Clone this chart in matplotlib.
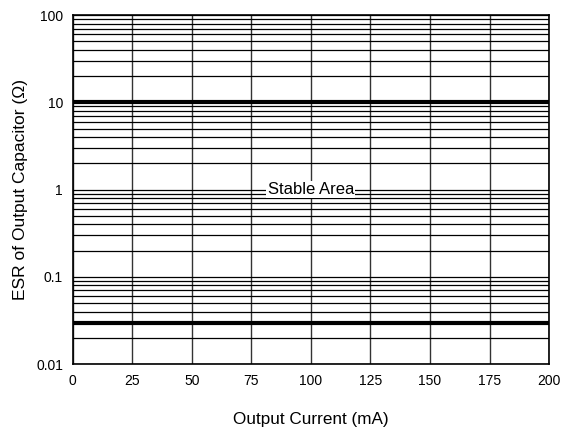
import matplotlib
matplotlib.use('Agg')
import matplotlib.pyplot as plt
from matplotlib.ticker import FixedLocator, LogLocator, NullFormatter

plt.rcParams['font.family'] = ['Liberation Sans', 'DejaVu Sans']

x_ticks = [0, 25, 50, 75, 100, 125, 150, 175, 200]
y_ticks = [0.01, 0.1, 1, 10, 100]
y_tick_labels = ['0.01', '0.1', '1', '10', '100']
upper_esr = 10
lower_esr = 0.03
x_range = [0, 200]

fig = plt.figure(figsize=(5.69, 4.30), dpi=100)
ax = fig.add_axes([0.128, 0.153, 0.837, 0.812])

ax.set_yscale('log')
ax.set_xlim(x_range)
ax.set_ylim(0.01, 100)

ax.plot(x_range, [upper_esr, upper_esr], color='black', lw=3.0, solid_capstyle='butt', zorder=3)
ax.plot(x_range, [lower_esr, lower_esr], color='black', lw=3.0, solid_capstyle='butt', zorder=3)

ax.xaxis.set_major_locator(FixedLocator(x_ticks))
ax.yaxis.set_major_locator(FixedLocator(y_ticks))
ax.set_yticklabels(y_tick_labels)
ax.yaxis.set_minor_locator(LogLocator(base=10, subs=range(2, 10), numticks=20))
ax.yaxis.set_minor_formatter(NullFormatter())

ax.grid(True, which='major', axis='x', color='#333333', lw=1.0)
ax.grid(True, which='both', axis='y', color='black', lw=0.9)
ax.tick_params(which='both', length=0, labelsize=10, pad=7)

for s in ax.spines.values():
    s.set_linewidth(1.2)

ax.text(100, 1, 'Stable Area', ha='center', va='center', fontsize=12,
        bbox=dict(facecolor='white', edgecolor='none', pad=1.0), zorder=4)

ax.set_xlabel('Output Current (mA)', fontsize=12.3, labelpad=17)
ax.set_ylabel('ESR of Output Capacitor (\u03a9)', fontsize=12.5, labelpad=6)

fig.savefig('out.png', dpi=100)
